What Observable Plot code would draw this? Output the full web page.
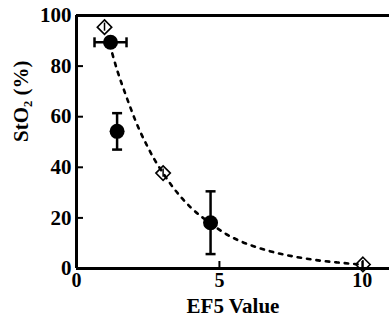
<!DOCTYPE html>
<html><head><meta charset="utf-8">
<script src="https://cdn.jsdelivr.net/npm/d3@7"></script>
<script src="https://cdn.jsdelivr.net/npm/@observablehq/plot@0.6"></script>
<style>
body{margin:0;background:#fff}
svg, svg text {font-family: "Times New Roman", "Liberation Serif", serif !important; font-weight: 700 !important;}
</style>
</head><body><div id="chart"></div>
<script>
// Filled circles: mean values with error bars
const meanX = [1.19, 1.42, 4.69];
const meanY = [89.4, 54.2, 18.1];
const meanXErr = [0.56, 0, 0];
const meanYErr = [0, 7.2, 12.4];
// Open diamonds
const diamondX = [0.98, 3.03, 10.02];
const diamondY = [95.4, 37.7, 1.6];
const diamondYErr = [1.6, 1.6, 1.6];
// Dotted fitted curve
const curveX = [1.25, 1.42, 1.71, 1.89, 2.06, 2.24, 2.47, 2.70, 3.03, 3.29, 3.64, 3.99, 4.69, 5.15, 5.73, 6.2, 7.13, 7.72, 8.53, 9.12, 9.93];
const curveY = [85, 78.5, 69, 63.5, 58.5, 53.8, 48.5, 43.6, 37.7, 33.4, 28.4, 24.2, 17.8, 14.2, 10.8, 8.8, 5.8, 4.5, 3.1, 2.4, 1.6];
// Axes
const xTicks = [0, 5, 10];
const yTicks = [0, 20, 40, 60, 80, 100];
const xLabel = "EF5 Value";
const yLabel = "StO\u2082 (%)";

const means = meanX.map((x, i) => ({x, y: meanY[i], xe: meanXErr[i], ye: meanYErr[i]}));
const diamonds = diamondX.map((x, i) => ({x, y: diamondY[i], ye: diamondYErr[i]}));
const curve = curveX.map((x, i) => ({x, y: curveY[i]}));
const vBars = means.filter(d => d.ye > 0);
const hBars = means.filter(d => d.xe > 0);

const hCap = {draw(ctx) { ctx.moveTo(-5, 0); ctx.lineTo(5, 0); }};
const vCap = {draw(ctx) { ctx.moveTo(0, -5); ctx.lineTo(0, 5); }};

const font = "Times New Roman";

const chart = Plot.plot({
  width: 389,
  height: 327,
  marginLeft: 76,
  marginRight: 0,
  marginTop: 15,
  marginBottom: 59,
  style: {fontFamily: font, fontWeight: "bold", fontSize: "20px", color: "black", background: "white", overflow: "visible"},
  x: {domain: [0, 10.95]},
  y: {domain: [0, 100]},
  marks: [
    Plot.axisX({ticks: xTicks, tickSize: -7, tickPadding: 11, strokeWidth: 2, label: null, fontFamily: font, fontSize: 20, tickFormat: d => String(d)}),
    Plot.axisY({ticks: yTicks, tickSize: -7, tickPadding: 12, strokeWidth: 2, label: null, fontFamily: font, fontSize: 21, tickFormat: d => String(d)}),
    Plot.ruleY([0, 100], {stroke: "#000", strokeWidth: 3}),
    Plot.ruleX([0], {stroke: "#000", strokeWidth: 3}),
    Plot.line(curve, {x: "x", y: "y", curve: "monotone-x", stroke: "#000", strokeWidth: 2.6, strokeDasharray: "3.5,6"}),
    // diamond small error bars
    Plot.ruleX(diamonds, {x: "x", y1: d => d.y - d.ye, y2: d => d.y + d.ye, stroke: "#000", strokeWidth: 1.5}),
    Plot.dot(diamonds, {x: "x", y: "y", symbol: "diamond2", r: 6.5, stroke: "#000", strokeWidth: 1.6, fill: "none"}),
    // vertical error bars
    Plot.ruleX(vBars, {x: "x", y1: d => d.y - d.ye, y2: d => d.y + d.ye, stroke: "#000", strokeWidth: 2.5}),
    Plot.dot(vBars, {x: "x", y: d => d.y - d.ye, symbol: hCap, stroke: "#000", strokeWidth: 2.5}),
    Plot.dot(vBars, {x: "x", y: d => d.y + d.ye, symbol: hCap, stroke: "#000", strokeWidth: 2.5}),
    // horizontal error bars
    Plot.ruleY(hBars, {y: "y", x1: d => d.x - d.xe, x2: d => d.x + d.xe, stroke: "#000", strokeWidth: 2.5}),
    Plot.dot(hBars, {x: d => d.x - d.xe, y: "y", symbol: vCap, stroke: "#000", strokeWidth: 2.5}),
    Plot.dot(hBars, {x: d => d.x + d.xe, y: "y", symbol: vCap, stroke: "#000", strokeWidth: 2.5}),
    Plot.dot(means, {x: "x", y: "y", r: 7.5, fill: "#000", stroke: "none"}),
    Plot.text([xLabel], {frameAnchor: "bottom", dy: 44, fontFamily: font, fontWeight: "bold", fontSize: 21, fill: "#000"}),
    Plot.text([yLabel], {frameAnchor: "left", rotate: -90, dx: -55, fontFamily: font, fontWeight: "bold", fontSize: 21, fill: "#000"})
  ]
});
document.getElementById("chart").append(chart);
</script>
</body></html>
